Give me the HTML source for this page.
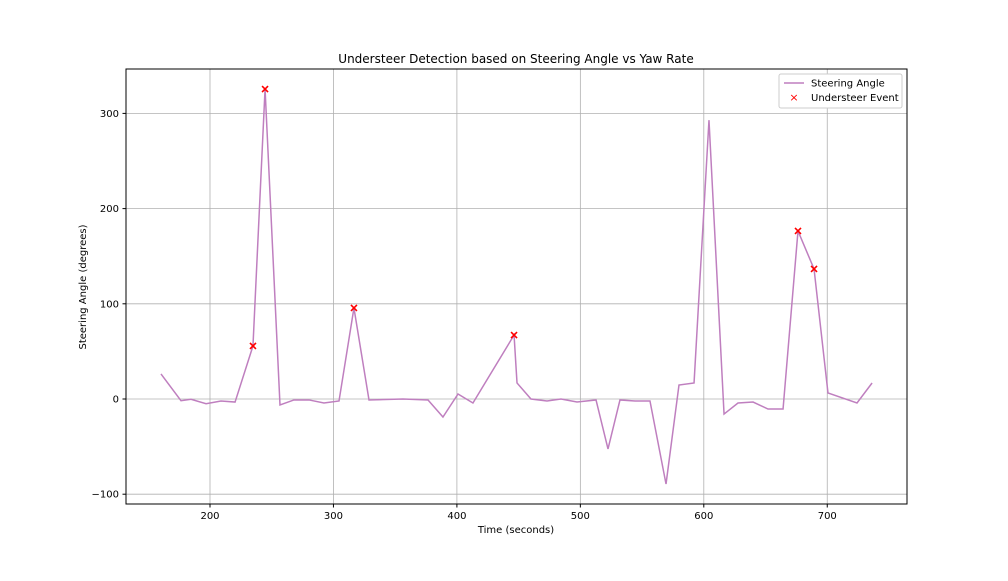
<!DOCTYPE html>
<html><head><meta charset="utf-8"><style>
body{margin:0;background:#fff;font-family:"Liberation Sans","DejaVu Sans",sans-serif}
svg text{font-family:"DejaVu Sans","Liberation Sans",sans-serif}
</style></head><body>
<svg id="chart" width="1008" height="576" xmlns="http://www.w3.org/2000/svg">
<rect width="1008" height="576" fill="#fff"/>
<g id="grid"></g>
<g id="ticks"></g>
<polyline id="line" fill="none" stroke="#bf7fbf" stroke-width="1.5"/>
<g id="marks"></g>
<rect x="126" y="69" width="781" height="435" fill="none" stroke="#000" stroke-width="1"/>
<text x="516" y="63" text-anchor="middle" font-size="12">Understeer Detection based on Steering Angle vs Yaw Rate</text>
<text x="516" y="533" text-anchor="middle" font-size="10">Time (seconds)</text>
<text x="86" y="287" text-anchor="middle" font-size="10" transform="rotate(-90 86 287)">Steering Angle (degrees)</text>
<g>
<rect x="779" y="74" width="123" height="34" fill="#fff" stroke="#ccc" rx="2"/>
<line x1="784" y1="83" x2="804" y2="83" stroke="#bf7fbf" stroke-width="1.5"/>
<text x="811" y="86.5" font-size="10">Steering Angle</text>
<text x="794" y="101" text-anchor="middle" font-size="11" fill="red">×</text>
<text x="811" y="101" font-size="10">Understeer Event</text>
</g>
</svg>
<script>
const times=[160.3,176.5,184.6,196.8,208.9,220.3,234.8,244.6,256.7,268,280.2,292.3,304.5,316.6,328.8,356.3,376.6,388.7,400.9,413,446.3,448.7,460,473,484.3,497.3,512.7,522.4,532.1,544.3,556.4,569.4,579.9,592.1,604.2,616.4,627.7,639.9,652,664.2,676.3,689.3,700.6,724.1,736.3];
const angles=[26.3,-1.8,-0.3,-5,-2.1,-3.2,55.7,325.6,-6.3,-1,-1,-4.2,-2.1,95.6,-1,0,-1,-18.9,5.3,-4.2,67.2,16.8,0,-2.1,0,-3.2,-1,-52.5,-1,-2.1,-2.1,-89.3,14.7,16.8,292.9,-15.8,-4.2,-3.2,-10.5,-10.5,176.5,136.6,6.3,-4.2,16.8];
const eventTimes=[234.8,244.6,316.6,446.3,676.3,689.3];
const eventAngles=[55.7,325.6,95.6,67.2,176.5,136.6];
const xTicks=[200,300,400,500,600,700];
const yTicks=[-100,0,100,200,300];
const X=t=>210+(t-200)*1.2345;
const Y=v=>399-v*0.952;
const NS="http://www.w3.org/2000/svg";
const grid=document.getElementById('grid'),ticks=document.getElementById('ticks');
function mk(tag,attrs,parent){const e=document.createElementNS(NS,tag);for(const k in attrs)e.setAttribute(k,attrs[k]);parent.appendChild(e);return e;}
xTicks.forEach(t=>{const x=X(t);
 const g=mk('line',{x1:x,x2:x,y1:69,y2:504,stroke:'#b0b0b0','stroke-width':0.8},grid);
 
 
 mk('line',{x1:x,x2:x,y1:504,y2:507.5,stroke:'#000'},ticks);
 const l=mk('text',{x:x,y:519,'text-anchor':'middle','font-size':10},ticks);l.textContent=t;
 
 
});
yTicks.forEach(v=>{const y=Y(v);
 const g=mk('line',{x1:126,x2:907,y1:y,y2:y,stroke:'#b0b0b0','stroke-width':0.8},grid);
 
 
 mk('line',{x1:122.5,x2:126,y1:y,y2:y,stroke:'#000'},ticks);
 const l=mk('text',{x:119,y:y+3.5,'text-anchor':'end','font-size':10},ticks);l.textContent=v<0?'\u2212'+(-v):v;
 
 
});
document.getElementById('line').setAttribute('points',times.map((t,i)=>X(t)+','+Y(angles[i])).join(' '));
const marks=document.getElementById('marks');
eventTimes.forEach((t,i)=>{const x=X(t),y=Y(eventAngles[i]);
 const p=mk('path',{d:`M${x-3},${y-3}L${x+3},${y+3}M${x-3},${y+3}L${x+3},${y-3}`,stroke:'red','stroke-width':1.6},marks);
 
 
});
</script>
</body></html>
